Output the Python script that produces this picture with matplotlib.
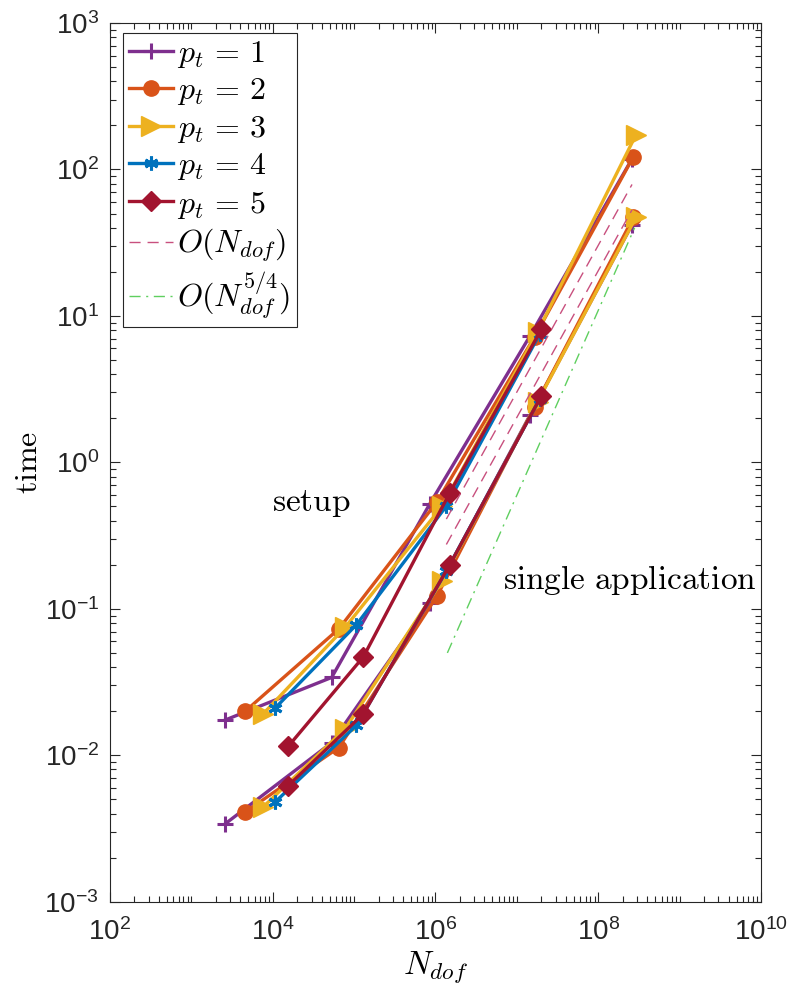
import numpy as np
import matplotlib
matplotlib.use('Agg')
from matplotlib import pyplot as plt
from matplotlib import ticker

# problem sizes per temporal degree
n_dof_p1 = [2.6e3, 5.3e4, 8.5e5, 1.45e7, 2.6e8]
n_dof_p2 = [4.6e3, 6.5e4, 1.05e6, 1.65e7, 2.7e8]
n_dof_p3 = [7.5e3, 7.8e4, 1.2e6, 1.8e7, 2.9e8]
n_dof_p4 = [1.07e4, 1.07e5, 1.35e6, 1.9e7]
n_dof_p5 = [1.55e4, 1.3e5, 1.5e6, 2.0e7]

# setup times
setup_p1 = [0.0174, 0.034, 0.52, 7.3, 118]
setup_p2 = [0.020, 0.073, 0.54, 7.2, 122]
setup_p3 = [0.019, 0.075, 0.50, 7.8, 172]
setup_p4 = [0.021, 0.078, 0.50, 7.5]
setup_p5 = [0.0115, 0.047, 0.62, 8.1]

# single application times
apply_p1 = [0.0034, 0.0122, 0.11, 2.1, 42]
apply_p2 = [0.0041, 0.0113, 0.123, 2.4, 47]
apply_p3 = [0.0044, 0.0152, 0.155, 2.6, 47]
apply_p4 = [0.0048, 0.016, 0.18, 2.7]
apply_p5 = [0.0062, 0.0192, 0.20, 2.85]

# reference slopes
ref_n = [1.36e6, 2.6e8]
ref_lin_a = [0.41, 79]
ref_lin_b = [0.275, 53]
ref_green_n = [1.4e6, 2.8e8]
ref_green = [0.05, 40]

labels = [r'$p_t\,=\,1$', r'$p_t\,=\,2$', r'$p_t\,=\,3$', r'$p_t\,=\,4$', r'$p_t\,=\,5$']
colors = ['#7e2f8e', '#d95319', '#edb120', '#0072bd', '#a2142f']
markers = ['+', 'o', '>', (6, 2, 0), 'D']
msizes = [12, 11, 14, 10, 10]

plt.rcParams['font.family'] = 'Liberation Sans'
plt.rcParams['axes.edgecolor'] = '#262626'
plt.rcParams['xtick.color'] = '#262626'
plt.rcParams['ytick.color'] = '#262626'

fig = plt.figure(figsize=(7.9, 9.92), dpi=100)
ax = fig.add_axes([0.1392, 0.091, 0.8241, 0.8858])

series = [
    (n_dof_p1, setup_p1, apply_p1),
    (n_dof_p2, setup_p2, apply_p2),
    (n_dof_p3, setup_p3, apply_p3),
    (n_dof_p4, setup_p4, apply_p4),
    (n_dof_p5, setup_p5, apply_p5),
]

for (n, t_setup, t_apply), label, c, m, ms in zip(series, labels, colors, markers, msizes):
    kw = dict(color=c, marker=m, markersize=ms, linewidth=2.4,
              markerfacecolor=c, markeredgecolor=c, markeredgewidth=2.2 if m in ('+', (6, 2, 0)) else 1)
    ax.plot(n, t_setup, label=label, **kw)
    ax.plot(n, t_apply, **kw)

ax.plot(ref_n, ref_lin_a, color='#c8507e', linewidth=1.0, dashes=(8, 5), label=r'$O(N_{dof})$')
ax.plot(ref_n, ref_lin_b, color='#c8507e', linewidth=1.0, dashes=(8, 5))
ax.plot(ref_green_n, ref_green, color='#5fcf5f', linewidth=1.0, dashes=(8, 4, 1.5, 4),
        label=r'$O(N_{dof}^{5/4})$')

ax.set_xscale('log')
ax.set_yscale('log')
ax.set_xlim(1e2, 1e10)
ax.set_ylim(1e-3, 1e3)

ax.xaxis.set_major_locator(ticker.LogLocator(base=100, numticks=10))
ax.xaxis.set_minor_locator(ticker.LogLocator(base=10, subs=np.arange(1, 10), numticks=100))
ax.xaxis.set_minor_formatter(ticker.NullFormatter())
ax.yaxis.set_major_locator(ticker.LogLocator(base=10, numticks=10))
ax.yaxis.set_minor_locator(ticker.LogLocator(base=10, subs=np.arange(2, 10), numticks=100))
ax.yaxis.set_minor_formatter(ticker.NullFormatter())

ax.tick_params(which='both', direction='in', top=True, right=True, labelsize=20, width=0.8)
ax.tick_params(which='major', length=7)
ax.tick_params(axis='x', which='major', pad=12)
ax.tick_params(axis='y', which='major', pad=8)
ax.tick_params(which='minor', length=4)
for s in ax.spines.values():
    s.set_linewidth(0.8)

ax.set_xlabel(r'$N_{dof}$', fontsize=24, math_fontfamily='cm', labelpad=2)
ax.set_ylabel(r'$\mathrm{time}$', fontsize=23, math_fontfamily='cm', labelpad=0)

ax.text(0.309, 0.4537, r'$\mathrm{setup}$', transform=ax.transAxes, fontsize=24,
        math_fontfamily='cm', ha='center', va='center')
ax.text(0.799, 0.366, r'$\mathrm{single\ application}$', transform=ax.transAxes, fontsize=24,
        math_fontfamily='cm', ha='center', va='center')

leg = ax.legend(loc='upper left', bbox_to_anchor=(0.02, 0.989), borderaxespad=0,
                fontsize=23, fancybox=False, framealpha=1, edgecolor='#262626',
                handlelength=1.35, handletextpad=0.15, labelspacing=0.2, borderpad=0.2)
leg.get_frame().set_linewidth(0.8)
for t in leg.get_texts():
    t.set_math_fontfamily('cm')

plt.savefig('out.png', dpi=100)
